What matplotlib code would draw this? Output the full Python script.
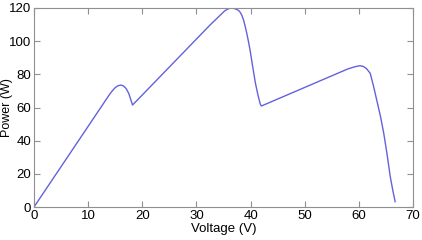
import matplotlib
matplotlib.use("Agg")
import matplotlib.pyplot as plt

voltage = [0, 14.0, 14.5, 15.0, 15.5, 16.0, 16.5, 17.0, 17.5, 18.0, 18.2,
           25, 32.5, 34.5, 35.2, 35.8, 36.3, 36.7, 37.3, 37.8, 38.1, 38.4, 38.7,
           39.0, 39.3, 39.6, 39.9, 40.4, 40.9, 41.4, 41.8, 42.0,
           50, 55, 58, 59.3, 60.2, 60.8, 61.4, 62.1, 62.7, 63.3, 64.0, 64.6,
           65.2, 65.8, 66.3, 66.7]
power = [0, 68.1, 70.2, 72.0, 73.1, 73.5, 73.1, 71.5, 68.5, 63.5, 61.5,
         84.4, 109.7, 116.0, 118.2, 119.4, 119.9, 120.0, 119.3, 118.5, 117.3, 115.5, 112.8,
         109.0, 104.7, 100.0, 94.7, 84.5, 74.6, 67.0, 62.0, 60.9,
         72.1, 79.1, 83.3, 84.6, 85.2, 84.8, 83.5, 80.6, 73.0, 64.5, 54.5, 44.4,
         32.0, 18.3, 9.5, 3.2]
xticks = [0, 10, 20, 30, 40, 50, 60, 70]
yticks = [0, 20, 40, 60, 80, 100, 120]

plt.rcParams['font.family'] = ['Liberation Sans', 'DejaVu Sans']
fig = plt.figure(figsize=(4.22, 2.4), dpi=100)
ax = fig.add_axes([34/422, 33/240, 379/422, 199/240])
ax.plot(voltage, power, color='#6262dc', linewidth=1.0)
ax.set_xlim(0, 70)
ax.set_ylim(0, 120)
ax.set_xticks(xticks)
ax.set_yticks(yticks)
ax.tick_params(direction='in', top=True, right=True, length=4, width=0.8,
               color='#909090', labelsize=9.5, pad=2)
for s in ax.spines.values():
    s.set_color('#909090')
    s.set_linewidth(0.8)
ax.set_xlabel('Voltage (V)', fontsize=9.5, labelpad=1)
fig.text(1/422, (33 + 199/2)/240, 'Power (W)', rotation=90, ha='left', va='center',
         fontsize=9)
fig.savefig('out.png', dpi=100)
